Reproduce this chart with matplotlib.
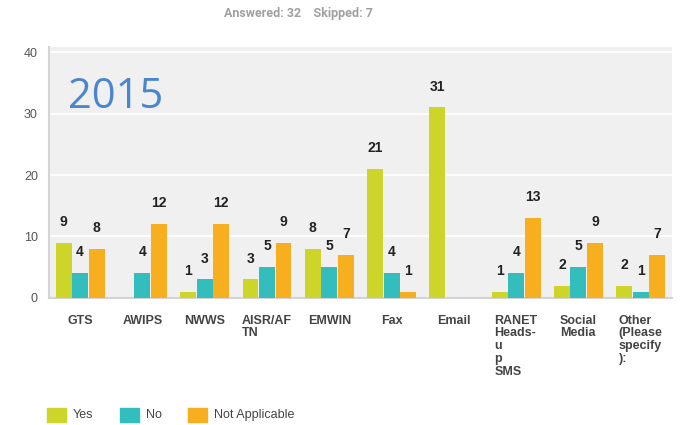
import numpy as np
import matplotlib
matplotlib.use("Agg")
import matplotlib.pyplot as plt
from matplotlib.patches import Rectangle

categories = ["GTS", "AWIPS", "NWWS", "AISR/AF\nTN", "EMWIN", "Fax", "Email",
              "RANET\nHeads-\nu\np\nSMS", "Social\nMedia", "Other\n(Please\nspecify\n):"]
yes_vals = [9, 0, 1, 3, 8, 21, 31, 1, 2, 2]
no_vals = [4, 4, 3, 5, 5, 4, 0, 4, 5, 1]
na_vals = [8, 12, 12, 9, 7, 1, 0, 13, 9, 7]
series_names = ["Yes", "No", "Not Applicable"]
series_colors = ["#cdd42a", "#33bdbd", "#f7ae1f"]

plt.rcParams['font.family'] = ['Liberation Sans', 'DejaVu Sans']

fig = plt.figure(figsize=(6.83, 4.25), dpi=100)
ax = fig.add_axes([0.0717, 0.299, 0.912, 0.590])
ax.set_facecolor("#f0f0f0")

x = np.arange(len(categories))
width = 0.255
step = 0.265
for k, vals in enumerate([yes_vals, no_vals, na_vals]):
    pos = x + (k - 1) * step
    ax.bar(pos, vals, width=width, color=series_colors[k], zorder=3)
    for p, v in zip(pos, vals):
        if v > 0:
            ax.text(p, v + 3.4, str(v), ha="center", va="center",
                    fontsize=10, fontweight="bold", color="#222222", zorder=4)

ax.set_xlim(-0.5, len(categories) - 0.5)
ax.set_ylim(0, 40.8)
ax.set_yticks([0, 10, 20, 30, 40])
ax.yaxis.grid(True, color="white", linewidth=1.2, zorder=0)
ax.tick_params(axis="y", length=0, labelsize=9, labelcolor="#555555", pad=8)
ax.set_xticks(x)
ax.set_xticklabels(categories, fontsize=9, fontweight="bold", color="#444444",
                   linespacing=1.1, va="top", multialignment="left")
ax.tick_params(axis="x", length=0, pad=12)

for s in ["top", "right"]:
    ax.spines[s].set_visible(False)
ax.spines["left"].set_color("#d4d4d4")
ax.spines["left"].set_linewidth(1.5)
ax.spines["bottom"].set_color("#d4d4d4")
ax.spines["bottom"].set_linewidth(1.5)

ax.text(0.03, 0.80, "2015", transform=ax.transAxes, fontsize=30,
        color="#4a86d0", family=["Open Sans", "DejaVu Sans"], va="center")

fig.text(0.437, 0.968, "Answered: 32    Skipped: 7", ha="center", va="center",
         fontsize=9, fontweight="bold", color="#a0a0a0",
         family=["Roboto", "DejaVu Sans"])

# legend
leg_x = [47, 120, 188]
for lx, name, col in zip(leg_x, series_names, series_colors):
    fig.patches.append(Rectangle((lx / 683, 1 - 422 / 425), 19 / 683, 14 / 425,
                                 transform=fig.transFigure, color=col))
    fig.text((lx + 26) / 683, 1 - 415 / 425, name, va="center", ha="left",
             fontsize=9, color="#444444")

fig.savefig("out.png", dpi=100)
